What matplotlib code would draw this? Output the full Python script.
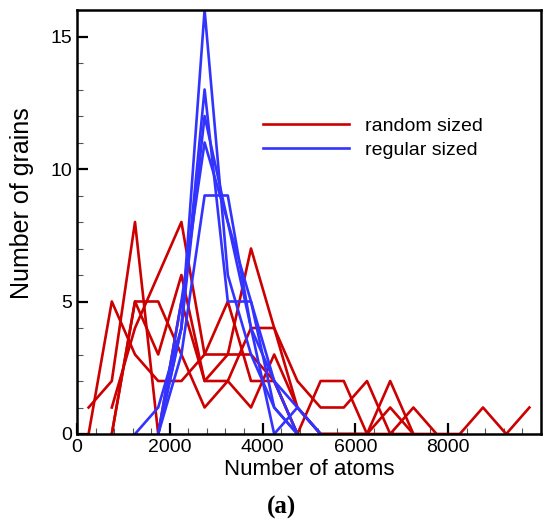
import numpy as np
import matplotlib
matplotlib.use("Agg")
import matplotlib.pyplot as plt
from matplotlib.ticker import MultipleLocator

nan = np.nan
# bin centres (number of atoms)
atoms = [250, 750, 1250, 1750, 2250, 2750, 3250, 3750, 4250, 4750,
         5250, 5750, 6250, 6750, 7250, 7750, 8250, 8750, 9250, 9750]

# random sized samples
random_1 = [1, 2, 8, 0, 5, 2, 3, 7, 4, 2, 1, 1, 2, 0, 1, 0, nan, nan, nan, nan]
random_2 = [0, 5, 3, 2, 2, 3, 5, 2, 2, 0, 2, 2, 0, 2, 0, nan, nan, nan, nan, nan]
random_3 = [nan, 0, 5, 5, 3, 1, 2, 1, 3, 1, 0, 0, 0, 1, 0, nan, nan, nan, nan, nan]
random_4 = [nan, 1, 4, 6, 8, 3, 3, 3, 2, 0, nan, nan, nan, nan, nan, nan, nan, nan, nan, nan]
random_5 = [nan, 0, 5, 3, 6, 2, 2, 4, 4, 1, 0, 0, 0, 0, 0, 0, 0, 1, 0, 1]
random_series = [random_1, random_2, random_3, random_4, random_5]

# regular sized samples
regular_1 = [nan, nan, nan, 0, 4, 16, 6, 3, 1, 0, nan, nan, nan, nan, nan, nan, nan, nan, nan, nan]
regular_2 = [nan, nan, nan, 0, 4, 13, 5, 5, 1, 0, nan, nan, nan, nan, nan, nan, nan, nan, nan, nan]
regular_3 = [nan, nan, 0, 1, 4, 12, 8, 4, 0, 1, 0, nan, nan, nan, nan, nan, nan, nan, nan, nan]
regular_4 = [nan, nan, nan, 0, 5, 11, 8, 5, 2, 0, nan, nan, nan, nan, nan, nan, nan, nan, nan, nan]
regular_5 = [nan, nan, nan, 0, 3, 9, 9, 4, 2, 1, 0, nan, nan, nan, nan, nan, nan, nan, nan, nan]
regular_series = [regular_1, regular_2, regular_3, regular_4, regular_5]

RED = "#CC0000"
BLUE = "#3333FF"

plt.rcParams["font.family"] = ["Liberation Sans", "DejaVu Sans"]

fig = plt.figure(figsize=(5.43, 5.20), dpi=100)
ax = fig.add_axes([77/543, 1 - 434/520, 464/543, 424/520])

for i, s in enumerate(random_series):
    ax.plot(atoms, s, color=RED, lw=1.9, label="random sized" if i == 0 else None)
for i, s in enumerate(regular_series):
    ax.plot(atoms, s, color=BLUE, lw=1.9, label="regular sized" if i == 0 else None)

ax.set_xlim(0, 10000)
ax.set_ylim(0, 16)
ax.xaxis.set_major_locator(MultipleLocator(2000))
ax.xaxis.set_minor_locator(MultipleLocator(400))
ax.yaxis.set_major_locator(MultipleLocator(5))
ax.yaxis.set_minor_locator(MultipleLocator(1))
ax.tick_params(which="both", direction="in", top=False, right=False, labelsize=14)
ax.tick_params(which="major", length=8, width=1.6)
ax.tick_params(which="minor", length=4, width=0.8, color="#555555")
ax.set_xticks([0, 2000, 4000, 6000, 8000])
for sp in ax.spines.values():
    sp.set_linewidth(1.8)

ax.set_xlabel("Number of atoms", fontsize=16, labelpad=2)
ax.set_ylabel("Number of grains", fontsize=18)
ax.yaxis.set_label_coords(-0.093, 0.545)

leg = ax.legend(loc="center left", bbox_to_anchor=(0.385, 0.698), frameon=False,
                fontsize=14, handlelength=4.4, handletextpad=0.8, labelspacing=0.35,
                borderaxespad=0)

fig.text(282/543, 1 - 507/520, "(a)", ha="center", va="center", fontsize=18,
         fontweight="bold", family="Liberation Serif")

fig.savefig("out.png", dpi=100)
